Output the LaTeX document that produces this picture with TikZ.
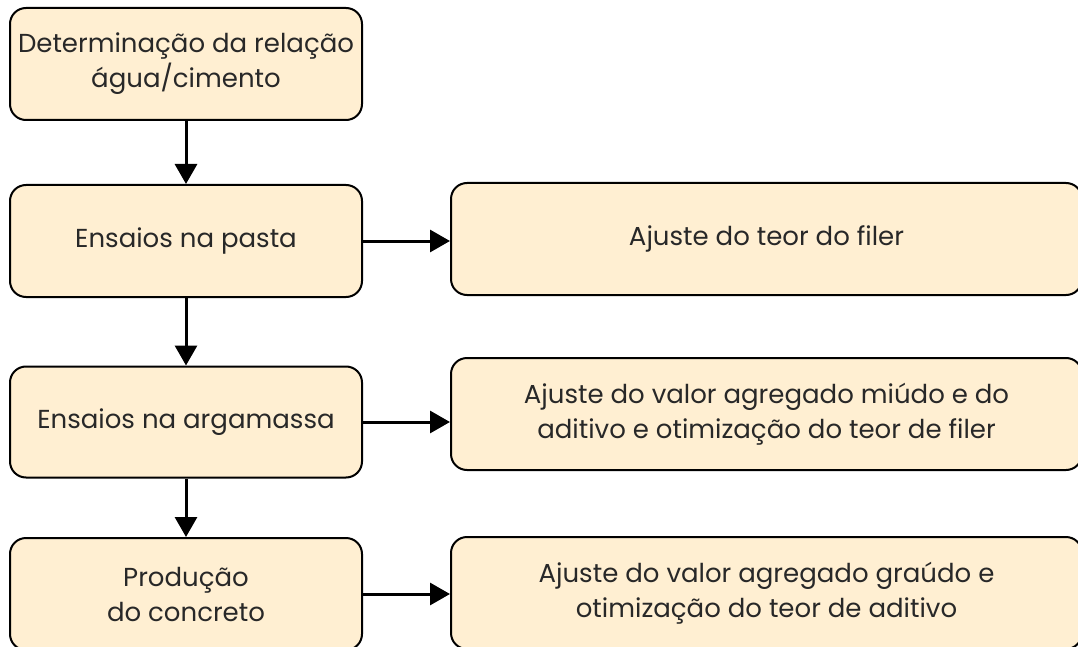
\documentclass[tikz,border=0pt]{standalone}
\usepackage{fontspec}
\setmainfont{Poppins}
\usetikzlibrary{arrows.meta}
\definecolor{boxfill}{RGB}{255,239,210}
\definecolor{textgray}{RGB}{40,40,40}

\begin{document}
\begin{tikzpicture}[x=1pt,y=-1pt,-{Triangle[width=22pt,length=20pt]},line width=3pt]
\tikzstyle{leftbox}=[rectangle,rounded corners=16pt,fill=boxfill,draw=black,line width=2pt,text=textgray,minimum width=352pt,minimum height=112pt,align=center,font=\fontsize{26}{35}\selectfont]
\tikzstyle{rightbox}=[leftbox,minimum width=631pt]
\useasboundingbox (0,0) rectangle (1078,647);
\node[leftbox] (l1) at (186,64) {Determinação da relação\\água/cimento};
\node[leftbox] (l2) [below of=l1,node distance=177pt] {Ensaios na pasta};
\node[leftbox] (l3) [below of=l2,node distance=181pt,minimum height=111pt] {Ensaios na argamassa};
\node[leftbox] (l4) [below of=l3,node distance=172pt] {Produção\\do concreto};
\node[rightbox] (r2) at (766.5,239) {Ajuste do teor do filer};
\node[rightbox] (r3) at (766.5,414) {Ajuste do valor agregado miúdo e do\\aditivo e otimização do teor de filer};
\node[rightbox] (r4) at (766.5,593) {Ajuste do valor agregado graúdo e\\otimização do teor de aditivo};
\path (l1) edge (l2);
\path (l2) edge (l3);
\path (l3) edge (l4);

\draw (l2.east) -- (l2.east -| r2.west);
\draw (l3.east) -- (l3.east -| r3.west);
\draw (l4.east) -- (l4.east -| r4.west);
\end{tikzpicture}
\end{document}
